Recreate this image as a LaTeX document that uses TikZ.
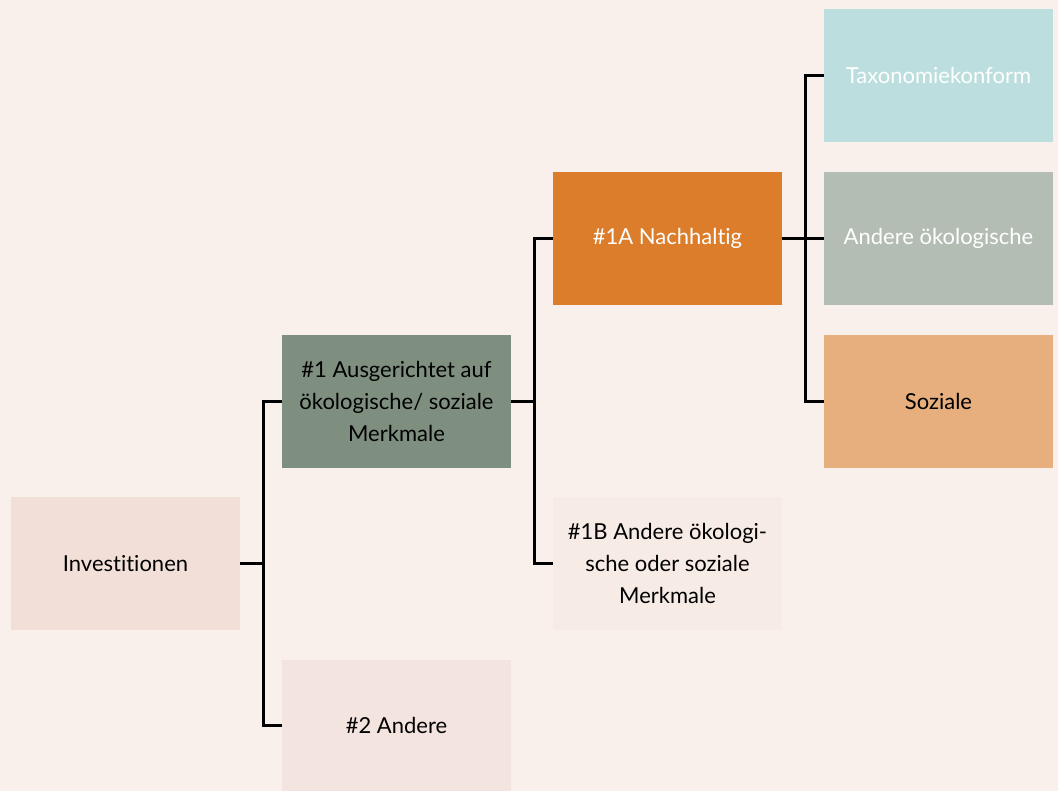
\documentclass[tikz,border=0pt]{standalone}
\usepackage{fontspec}
\setmainfont{Lato}[Ligatures=NoCommon]
\definecolor{bg}{HTML}{F9F0EC}
\definecolor{cinv}{HTML}{F2E0D8}
\definecolor{cone}{HTML}{7F8F7F}
\definecolor{conea}{HTML}{DB7D2A}
\definecolor{coneb}{HTML}{F7EBE6}
\definecolor{ctwo}{HTML}{F4E4DF}
\definecolor{ctax}{HTML}{BCDEDE}
\definecolor{coek}{HTML}{B3BDB3}
\definecolor{csoz}{HTML}{E8AF7E}
\tikzset{
  box/.style={rectangle, inner sep=0pt, outer sep=0pt, minimum width=229pt, minimum height=133pt, anchor=north west, align=center, font=\fontsize{22}{32}\selectfont, text=black},
  conn/.style={draw=black, line width=3pt, line join=miter}
}
\begin{document}
\begin{tikzpicture}[x=1pt,y=-1pt]
\useasboundingbox (0,0) rectangle (1058,791);
\fill[bg] (0,0) rectangle (1058,791);
\node[box, fill=cinv] (inv) at (11,497) {Investitionen};
\node[box, fill=cone] (n1) at (282,335) {\#1 Ausgerichtet auf\\ökologische/ soziale\\Merkmale};
\node[box, fill=ctwo, minimum height=131pt] (n2) at (282,660) {\#2 Andere};
\node[box, fill=conea, text=white] (n1a) at (553,172) {\#1A Nachhaltig};
\node[box, fill=coneb] (n1b) at (553,497) {\#1B Andere ökologi-\\sche oder soziale\\Merkmale};
\node[box, fill=ctax, text=white] (tax) at (824,9) {Taxonomiekonform};
\node[box, fill=coek, text=white] (oek) at (824,172) {Andere ökologische};
\node[box, fill=csoz] (soz) at (824,335) {Soziale};
\coordinate (j1) at ([xshift=23pt]inv.east);
\coordinate (j2) at ([xshift=23pt]n1.east);
\coordinate (j3) at ([xshift=23pt]n1a.east);
\draw[conn] (inv.east) -- (j1);
\draw[conn] (n1.west) -| (j1) |- (n2.west);
\draw[conn] (n1.east) -- (j2);
\draw[conn] (n1a.west) -| (j2) |- (n1b.west);
\draw[conn] (n1a.east) -- (j3);
\draw[conn] (tax.west) -| (j3) |- (soz.west);
\draw[conn] (j3) -- (oek.west);
\end{tikzpicture}
\end{document}
